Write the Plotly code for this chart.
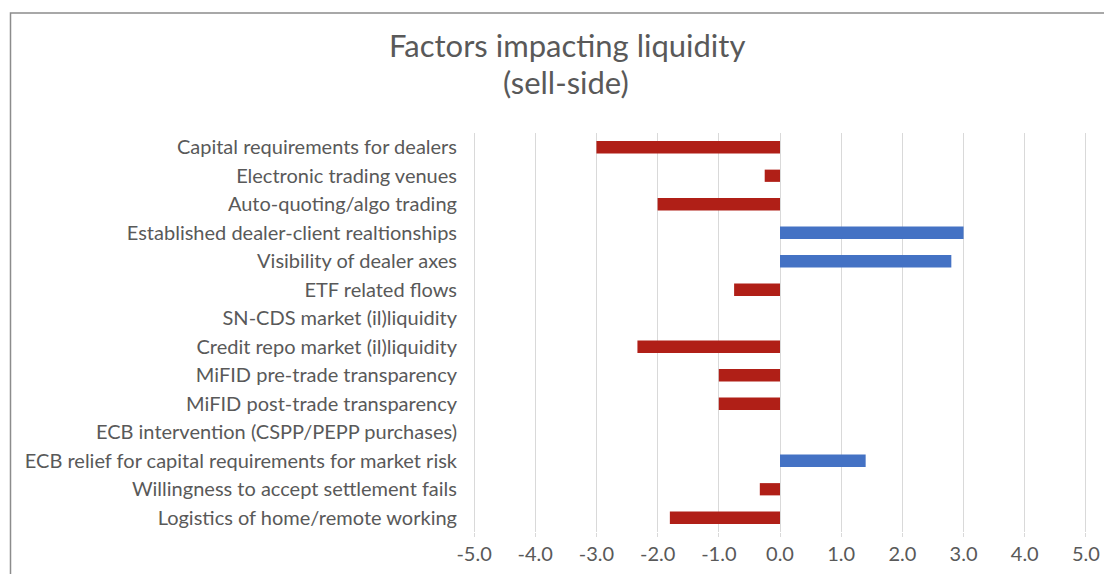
import plotly.graph_objects as go

categories = [
    "Capital requirements for dealers",
    "Electronic trading venues",
    "Auto-quoting/algo trading",
    "Established dealer-client realtionships",
    "Visibility of dealer axes",
    "ETF related flows",
    "SN-CDS market (il)liquidity",
    "Credit repo market (il)liquidity",
    "MiFID pre-trade transparency",
    "MiFID post-trade transparency",
    "ECB intervention (CSPP/PEPP purchases)",
    "ECB relief for capital requirements for market risk",
    "Willingness to accept settlement fails",
    "Logistics of home/remote working",
]
values = [-3.0, -0.25, -2.0, 3.0, 2.8, -0.75, 0.0, -2.33, -1.0, -1.0, 0.0, 1.4, -0.33, -1.8]
tick_vals = [-5, -4, -3, -2, -1, 0, 1, 2, 3, 4, 5]
tick_text = ["-5.0", "-4.0", "-3.0", "-2.0", "-1.0", "0.0", "1.0", "2.0", "3.0", "4.0", "5.0"]

RED = "#B01F17"
BLUE = "#4472C4"
colors = [BLUE if v > 0 else RED for v in values]

W, H = 1104, 574
PAD = 0.05           # small range padding so the end gridlines show
UNIT = 61.2          # px per unit
PADPX = round(PAD * UNIT)
ML = 474 - PADPX
MR = 18 - PADPX
MT = 133
MB = H - 532
FONT = "Lato, Carlito, Calibri, sans-serif"
TXT = "#595959"

fig = go.Figure(go.Bar(
    x=values, y=categories, orientation="h",
    marker=dict(color=colors, line=dict(width=0)),
    hoverinfo="x+y",
))

pw = W - ML - MR
ph = H - MT - MB
def px_x(p):
    return (p - ML) / pw
def px_y(p):
    return 1 - (p - MT) / ph

fig.update_layout(
    width=W, height=H,
    margin=dict(l=ML, r=MR, t=MT, b=MB, autoexpand=False),
    paper_bgcolor="white", plot_bgcolor="white",
    font=dict(family=FONT, size=20, color=TXT),
    bargap=0.57,
    showlegend=False,
    xaxis=dict(
        range=[-5 - PAD, 5 + PAD], tickvals=tick_vals, ticktext=tick_text,
        showgrid=True, gridcolor="#D9D9D9", gridwidth=1,
        zeroline=False, showline=False,
        ticks="outside", ticklen=4, tickcolor="#D9D9D9",
        tickfont=dict(size=20, color=TXT),
        fixedrange=True,
    ),
    yaxis=dict(
        autorange="reversed", showgrid=False, zeroline=False, showline=False,
        ticks="", ticklabelstandoff=16 - PADPX,
        tickfont=dict(size=20, color=TXT),
        fixedrange=True,
    ),
    annotations=[
        dict(text="Factors impacting liquidity",
             xref="paper", yref="paper", x=px_x(567), y=px_y(45),
             xanchor="center", yanchor="middle", showarrow=False,
             font=dict(size=31, color=TXT, family=FONT)),
        dict(text="(sell-side)",
             xref="paper", yref="paper", x=px_x(566), y=px_y(82),
             xanchor="center", yanchor="middle", showarrow=False,
             font=dict(size=31, color=TXT, family=FONT)),
    ],
    shapes=[
        dict(type="rect", xref="paper", yref="paper",
             x0=px_x(10.5), x1=px_x(1140), y0=px_y(620), y1=px_y(13),
             line=dict(color="#8C8C8C", width=1.5), fillcolor="rgba(0,0,0,0)",
             layer="below"),
    ],
)

fig.write_html(
    "out.html",
    config={"displayModeBar": False},
    post_script="document.body.style.margin='0';document.body.style.overflow='hidden';",
)
